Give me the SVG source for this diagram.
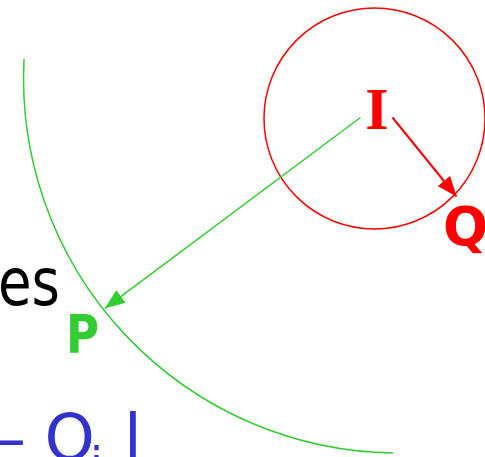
<svg xmlns="http://www.w3.org/2000/svg" width="485" height="457" viewBox="0 0 485 457">
<defs>
<style>
.sans{font-family:"DejaVu Sans","Liberation Sans",sans-serif}
.bold{font-weight:bold}
</style>
<marker id="ahG" markerUnits="userSpaceOnUse" markerWidth="22" markerHeight="18" refX="20" refY="8" orient="auto"><path d="M0,0 L20,8 L0,16 Z" fill="#33CC33"/></marker>
<marker id="ahR" markerUnits="userSpaceOnUse" markerWidth="22" markerHeight="18" refX="20" refY="8" orient="auto"><path d="M0,0 L20,8 L0,16 Z" fill="#FF0000"/></marker>
</defs>
<rect width="485" height="457" fill="#ffffff"/>
<g id="sphere">
<path d="M24,59 A375,375 0 0,0 393,453" fill="none" stroke="#33CC33" stroke-width="1.5"/>
</g>
<g id="circle">
<circle cx="374.5" cy="118.5" r="110.5" fill="none" stroke="#FF0000" stroke-width="1.5"/>
</g>
<g id="connectors">
<line x1="360.5" y1="117.5" x2="105" y2="308.3" stroke="#33CC33" stroke-width="1.5" marker-end="url(#ahG)"/>
<line x1="392.5" y1="117.5" x2="456.5" y2="196.5" stroke="#FF0000" stroke-width="2" marker-end="url(#ahR)"/>
</g>
<g id="node-I">
<text x="377" y="129" font-family="Liberation Serif, serif" font-weight="bold" font-size="60" fill="#FF0000" text-anchor="middle">I</text>
</g>
<g id="node-Q">
<text x="443" y="245" class="sans bold" font-size="53" fill="#FF0000">Q</text>
</g>
<g id="node-P">
<text x="66" y="353" class="sans bold" font-size="53" fill="#33CC33" textLength="33" lengthAdjust="spacingAndGlyphs">P</text>
</g>
<g id="text-es">
<text x="-2" y="305" class="sans" font-size="66" fill="#000000" textLength="62" lengthAdjust="spacingAndGlyphs">es</text>
</g>
<g id="text-bottom" class="sans" fill="#3333CC" font-size="64">
<text x="-6" y="460">–</text>
<text x="44.5" y="460">O</text>
<text x="90" y="480" font-size="46">i</text>
<text x="124" y="460">l</text>
</g>
</svg>
